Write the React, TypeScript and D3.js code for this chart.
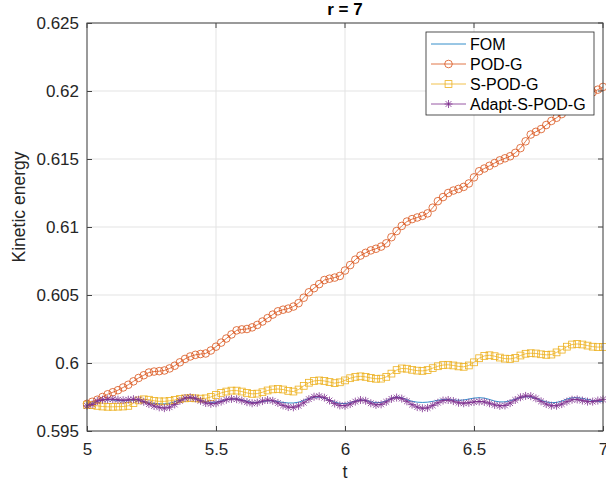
import React, { useEffect, useRef } from 'react';
import * as d3 from 'd3';

const W = 606;
const H = 487;

// sample times (dt = 0.02)
const tValues = d3.range(101).map(i => +(5 + i * 0.02).toFixed(2));

const xTicks = [5, 5.5, 6, 6.5, 7];
const yTicks = [0.595, 0.6, 0.605, 0.61, 0.615, 0.62, 0.625];
const yTickLabels = ['0.595', '0.6', '0.605', '0.61', '0.615', '0.62', '0.625'];
const seriesNames = ['FOM', 'POD-G', 'S-POD-G', 'Adapt-S-POD-G'];

const fom = [
  0.5969, 0.59705, 0.5972, 0.59728, 0.5973, 0.59728, 0.59724, 0.59722, 0.59724, 0.59726,
  0.59724, 0.59716, 0.59708, 0.59702, 0.597, 0.597, 0.59705, 0.59715, 0.59728, 0.59737,
  0.5974, 0.59735, 0.59725, 0.59715, 0.5971, 0.59712, 0.5972, 0.5973, 0.59736, 0.59736,
  0.5973, 0.59718, 0.5971, 0.5971, 0.59716, 0.59722, 0.59722, 0.59716, 0.5971, 0.59706,
  0.59706, 0.59712, 0.59725, 0.5974, 0.59748, 0.5975, 0.59742, 0.59728, 0.59712, 0.59703,
  0.59702, 0.59708, 0.5972, 0.59728, 0.59725, 0.59715, 0.59708, 0.5971, 0.59722, 0.5974,
  0.5975, 0.59745, 0.5973, 0.59718, 0.59712, 0.5971, 0.59712, 0.59718, 0.59726, 0.59732,
  0.59732, 0.59728, 0.59726, 0.59728, 0.59735, 0.59742, 0.59745, 0.59742, 0.59732, 0.5972,
  0.59714, 0.59714, 0.59722, 0.59734, 0.59746, 0.59752, 0.5975, 0.5974, 0.59726, 0.59714,
  0.59708, 0.5971, 0.5972, 0.59735, 0.59744, 0.59745, 0.5974, 0.59732, 0.59724, 0.59718,
  0.59716,
];

const podG = [
  0.597, 0.59715, 0.5973, 0.5975, 0.5977, 0.59785, 0.598, 0.5982, 0.5984, 0.59865,
  0.5989, 0.5991, 0.5993, 0.59937, 0.5994, 0.59945, 0.5996, 0.5998, 0.60005, 0.6003,
  0.60048, 0.6006, 0.60066, 0.6007, 0.60092, 0.6012, 0.6015, 0.6018, 0.6021, 0.6024,
  0.60247, 0.6025, 0.60262, 0.6028, 0.60305, 0.6033, 0.60356, 0.6038, 0.60392, 0.604,
  0.60415, 0.6044, 0.6048, 0.6052, 0.6055, 0.6058, 0.6061, 0.6062, 0.60628, 0.6064,
  0.6068, 0.6072, 0.6076, 0.6079, 0.6081, 0.60828, 0.6084, 0.60856, 0.6088, 0.60925,
  0.6097, 0.61008, 0.6104, 0.61058, 0.6107, 0.61082, 0.611, 0.61142, 0.6119, 0.6122,
  0.6125, 0.61268, 0.6128, 0.61295, 0.6132, 0.61365, 0.6141, 0.6143, 0.6145, 0.6147,
  0.6149, 0.61505, 0.6152, 0.61545, 0.6158, 0.6163, 0.6168, 0.617, 0.6172, 0.6175,
  0.6178, 0.61803, 0.6183, 0.61875, 0.6192, 0.61948, 0.6197, 0.61982, 0.6199, 0.6201,
  0.6203,
];

const sPodG = [
  0.5969, 0.5969, 0.59685, 0.5968, 0.59678, 0.59678, 0.59679, 0.5968, 0.59685, 0.59705,
  0.59725, 0.59733, 0.5973, 0.59722, 0.59718, 0.59718, 0.59722, 0.59728, 0.59735, 0.5974,
  0.59742, 0.5974, 0.59738, 0.5974, 0.5975, 0.59765, 0.5978, 0.5979, 0.59797, 0.59797,
  0.5979, 0.5978, 0.59773, 0.59775, 0.59785, 0.59798, 0.59806, 0.59809, 0.59805, 0.59795,
  0.5979, 0.59805, 0.59832, 0.59855, 0.59868, 0.59872, 0.59868, 0.5986, 0.59852, 0.59858,
  0.59872, 0.59888, 0.59898, 0.59902, 0.59898, 0.5989, 0.59884, 0.59885, 0.59898, 0.59922,
  0.59948, 0.5996, 0.59958, 0.5995, 0.59944, 0.59942, 0.59948, 0.59962, 0.59976, 0.59985,
  0.59987, 0.59982, 0.59975, 0.59972, 0.59982, 0.60005, 0.60035, 0.60052, 0.60057, 0.6005,
  0.6004, 0.60032, 0.6003, 0.60038, 0.60055, 0.60068, 0.60072, 0.6007, 0.60064, 0.6006,
  0.60062, 0.60078, 0.60098, 0.6012, 0.60136, 0.6014, 0.60136, 0.60128, 0.6012, 0.60117,
  0.60118,
];

const adapt = [
  0.59685, 0.59695, 0.5972, 0.5973, 0.59733, 0.59734, 0.5973, 0.59726, 0.5973, 0.59734,
  0.5973, 0.59715, 0.59698, 0.59684, 0.59674, 0.59668, 0.59675, 0.59695, 0.59722, 0.59742,
  0.59748, 0.5974, 0.59722, 0.59706, 0.597, 0.59704, 0.59716, 0.5973, 0.59736, 0.59734,
  0.59724, 0.59712, 0.59704, 0.59708, 0.5972, 0.59728, 0.59722, 0.59706, 0.59688, 0.59676,
  0.59674, 0.59685, 0.59708, 0.59734, 0.59752, 0.59756, 0.59745, 0.59724, 0.59702, 0.59688,
  0.59686, 0.59698, 0.59716, 0.59728, 0.59722, 0.59704, 0.59692, 0.59696, 0.59714, 0.59736,
  0.59746, 0.59738, 0.59718, 0.59694, 0.59676, 0.59667, 0.5967, 0.59688, 0.59708, 0.59724,
  0.59728, 0.5972, 0.59708, 0.59704, 0.59708, 0.59714, 0.59717, 0.59714, 0.59704, 0.59692,
  0.59685, 0.59688, 0.59705, 0.59728, 0.59748, 0.59758, 0.59756, 0.5974, 0.59718, 0.59698,
  0.59686, 0.59686, 0.59698, 0.59716, 0.5973, 0.59732, 0.59724, 0.59716, 0.59716, 0.59724,
  0.59732,
];

const colors = ['#0072BD', '#D95319', '#EDB120', '#7E2F8E'];
const markers = ['none', 'circle', 'square', 'asterisk'];
const seriesValues = [fom, podG, sPodG, adapt];

const FONT = '"Liberation Sans", Arial, Helvetica, sans-serif';

// matlab-ish '*' marker: a plus and a cross
const starPath = (px: number, py: number, s: number) => {
  const d2 = s * 0.72;
  return `M${px - s},${py}L${px + s},${py}M${px},${py - s}L${px},${py + s}` +
    `M${px - d2},${py - d2}L${px + d2},${py + d2}M${px - d2},${py + d2}L${px + d2},${py - d2}`;
};

const Chart = () => {
  const ref = useRef<SVGSVGElement | null>(null);

  useEffect(() => {
    const root = d3.select(ref.current);
    root.selectAll('*').remove();

    const margin = { top: 23, right: 3, bottom: 56, left: 87 };
    const iw = W - margin.left - margin.right;
    const ih = H - margin.top - margin.bottom;

    const x = d3.scaleLinear().domain([5, 7]).range([0, iw]);
    const y = d3.scaleLinear().domain([0.595, 0.625]).range([ih, 0]);

    const g = root.append('g').attr('transform', `translate(${margin.left},${margin.top})`);

    // grid
    g.append('g')
      .selectAll('line')
      .data(xTicks)
      .enter().append('line')
      .attr('x1', d => x(d)).attr('x2', d => x(d))
      .attr('y1', 0).attr('y2', ih)
      .attr('stroke', '#e3e3e3').attr('stroke-width', 1);
    g.append('g')
      .selectAll('line')
      .data(yTicks)
      .enter().append('line')
      .attr('y1', d => y(d)).attr('y2', d => y(d))
      .attr('x1', 0).attr('x2', iw)
      .attr('stroke', '#e3e3e3').attr('stroke-width', 1);

    // series
    const line = d3.line<number>()
      .x((_, i) => x(tValues[i]))
      .y(d => y(d));

    seriesValues.forEach((vals, si) => {
      const col = colors[si];
      g.append('path')
        .datum(vals)
        .attr('d', line)
        .attr('fill', 'none')
        .attr('stroke', col)
        .attr('stroke-width', 0.8);

      const mk = markers[si];
      if (mk === 'none') return;
      const mg = g.append('g').attr('fill', 'none').attr('stroke', col).attr('stroke-width', 0.8);
      vals.forEach((v, i) => {
        const px = x(tValues[i]);
        const py = y(v);
        if (mk === 'circle') {
          mg.append('circle').attr('cx', px).attr('cy', py).attr('r', 3.8);
        } else if (mk === 'square') {
          mg.append('rect').attr('x', px - 3.4).attr('y', py - 3.4).attr('width', 6.8).attr('height', 6.8);
        } else {
          mg.append('path').attr('d', starPath(px, py, 4));
        }
      });
    });

    // box + ticks
    const axisCol = '#444';
    g.append('rect')
      .attr('x', 0).attr('y', 0).attr('width', iw).attr('height', ih)
      .attr('fill', 'none').attr('stroke', axisCol).attr('stroke-width', 1);

    const xAxis = g.append('g')
      .attr('transform', `translate(0,${ih})`)
      .call(d3.axisBottom(x).tickValues(xTicks).tickFormat(d3.format('~g') as any)
        .tickSizeInner(-5).tickSizeOuter(0).tickPadding(12));
    xAxis.select('.domain').remove();

    const yAxis = g.append('g')
      .call(d3.axisLeft(y).tickValues(yTicks).tickFormat((_, i) => yTickLabels[i])
        .tickSizeInner(-5).tickSizeOuter(0).tickPadding(8));
    yAxis.select('.domain').remove();

    [xAxis, yAxis].forEach(a => {
      a.selectAll('.tick line').attr('stroke', axisCol);
      a.selectAll('.tick text')
        .style('font-family', FONT)
        .style('font-size', '17px')
        .attr('fill', '#262626');
    });

    // top / right ticks
    g.append('g').selectAll('line').data(xTicks).enter().append('line')
      .attr('x1', d => x(d)).attr('x2', d => x(d)).attr('y1', 0).attr('y2', 5)
      .attr('stroke', axisCol);
    g.append('g').selectAll('line').data(yTicks).enter().append('line')
      .attr('y1', d => y(d)).attr('y2', d => y(d)).attr('x1', iw).attr('x2', iw - 5)
      .attr('stroke', axisCol);

    // labels
    root.append('text')
      .attr('x', margin.left + iw / 2).attr('y', 15)
      .attr('text-anchor', 'middle')
      .style('font-family', FONT).style('font-size', '17px').style('font-weight', 'bold')
      .attr('fill', '#000')
      .text('r = 7');

    root.append('text')
      .attr('x', margin.left + iw / 2).attr('y', 478)
      .attr('text-anchor', 'middle')
      .style('font-family', FONT).style('font-size', '18px')
      .attr('fill', '#262626')
      .text('t');

    root.append('text')
      .attr('transform', `translate(25,207) rotate(-90)`)
      .attr('text-anchor', 'middle')
      .style('font-family', FONT).style('font-size', '17.5px')
      .attr('fill', '#262626')
      .text('Kinetic energy');

    // legend
    const lg = root.append('g');
    lg.append('rect')
      .attr('x', 426).attr('y', 32).attr('width', 168).attr('height', 83)
      .attr('fill', '#fff').attr('stroke', '#262626').attr('stroke-width', 0.8);
    seriesNames.forEach((name, i) => {
      const ly = 44 + i * 20;
      const col = colors[i];
      lg.append('line')
        .attr('x1', 431).attr('x2', 466).attr('y1', ly).attr('y2', ly)
        .attr('stroke', col).attr('stroke-width', 0.8);
      const mx = 448.5;
      if (markers[i] === 'circle') {
        lg.append('circle').attr('cx', mx).attr('cy', ly).attr('r', 3.8)
          .attr('fill', 'none').attr('stroke', col).attr('stroke-width', 0.8);
      } else if (markers[i] === 'square') {
        lg.append('rect').attr('x', mx - 3.4).attr('y', ly - 3.4).attr('width', 6.8).attr('height', 6.8)
          .attr('fill', 'none').attr('stroke', col).attr('stroke-width', 0.8);
      } else if (markers[i] === 'asterisk') {
        lg.append('path').attr('d', starPath(mx, ly, 4))
          .attr('fill', 'none').attr('stroke', col).attr('stroke-width', 0.8);
      }
      lg.append('text')
        .attr('x', 470).attr('y', ly).attr('dy', '0.35em')
        .style('font-family', FONT).style('font-size', '16px')
        .attr('fill', '#000')
        .text(name);
    });
  }, []);

  return (
    <svg
      ref={ref}
      width={W}
      height={H}
      style={{ position: 'absolute', left: 0, top: 0, background: '#fff' }}
    />
  );
};

export default function App() {
  return <Chart />;
}
